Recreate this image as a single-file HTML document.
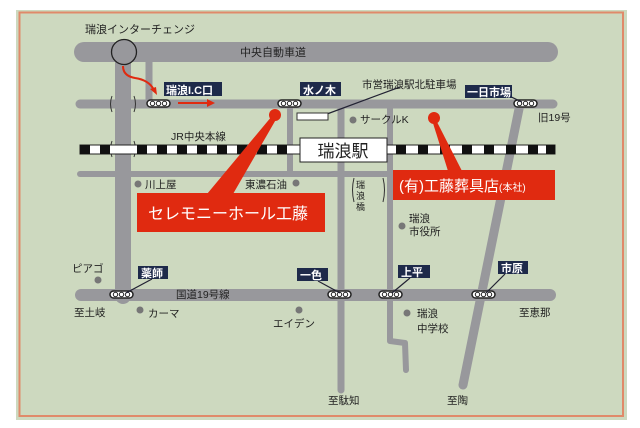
<!DOCTYPE html>
<html><head><meta charset="utf-8"><style>
html,body{margin:0;padding:0;background:#fff;}
svg{display:block;font-family:"Liberation Sans","Noto Sans CJK JP",sans-serif;}
</style></head><body>
<svg width="640" height="428" viewBox="0 0 640 428" xmlns="http://www.w3.org/2000/svg">
<defs>
<g id="sig"><rect x="0" y="0" width="23" height="7" rx="3.5" fill="#fff" stroke="#222" stroke-width="1.5"/><circle cx="5.5" cy="3.5" r="2.2" fill="none" stroke="#222" stroke-width="1"/><circle cx="11.5" cy="3.5" r="2.2" fill="none" stroke="#222" stroke-width="1"/><circle cx="17.5" cy="3.5" r="2.2" fill="none" stroke="#222" stroke-width="1"/></g>
</defs>
<rect x="16" y="10" width="611" height="410" fill="#cdd9bf"/>
<rect x="19.5" y="12.5" width="603.5" height="403.5" fill="none" stroke="#e08a6a" stroke-width="2"/>
<g stroke="#98989c" stroke-linecap="round" fill="none">
<line x1="84" y1="52" x2="548" y2="52" stroke-width="20"/>
<line x1="123" y1="52" x2="123" y2="296" stroke-width="16"/>
<line x1="149" y1="52" x2="149" y2="104" stroke-width="7"/>
<line x1="80" y1="104" x2="553" y2="104" stroke-width="9"/>
<line x1="80" y1="174" x2="395" y2="174" stroke-width="6"/>
<line x1="81" y1="295" x2="550" y2="295" stroke-width="12"/>
<line x1="290" y1="104" x2="290" y2="174" stroke-width="6"/>
<line x1="341" y1="104" x2="341" y2="390" stroke-width="7"/>
<polyline points="390,104 390,341 405,343 406,370" stroke-width="6" stroke-linejoin="round"/>
<line x1="520" y1="104" x2="463" y2="385" stroke-width="9"/>
</g>
<g stroke="#333" stroke-width="1" fill="none">
<path d="M112,96 q-3,8 0,16"/><path d="M134,96 q3,8 0,16"/>
<path d="M112,141 q-3,8 0,16"/><path d="M134,141 q3,8 0,16"/>
<path d="M354,178 q-3,12 0,24"/><path d="M383,178 q3,12 0,24"/>
</g>
<circle cx="124" cy="52" r="12.5" fill="#98989c" stroke="#222" stroke-width="1.3"/>
<rect x="80" y="145" width="475" height="9" fill="#fff" stroke="#222" stroke-width="1"/>
<g fill="#111">
<rect x="80" y="145" width="10" height="9"/><rect x="100" y="145" width="10" height="9"/>
<rect x="137" y="145" width="10" height="9"/><rect x="157" y="145" width="10" height="9"/><rect x="177" y="145" width="10" height="9"/><rect x="197" y="145" width="10" height="9"/><rect x="217" y="145" width="10" height="9"/><rect x="237" y="145" width="10" height="9"/><rect x="257" y="145" width="10" height="9"/><rect x="277" y="145" width="10" height="9"/>
<rect x="396" y="145" width="10" height="9"/><rect x="418" y="145" width="10" height="9"/><rect x="440" y="145" width="10" height="9"/><rect x="462" y="145" width="10" height="9"/><rect x="484" y="145" width="10" height="9"/><rect x="506" y="145" width="10" height="9"/><rect x="528" y="145" width="10" height="9"/><rect x="546" y="145" width="9" height="9"/>
</g>
<rect x="300" y="138" width="87" height="24" fill="#fff" stroke="#222" stroke-width="1"/>
<text x="343" y="157" font-size="17" text-anchor="middle" fill="#222">瑞浪駅</text>
<use href="#sig" x="147" y="100"/><use href="#sig" x="278" y="100"/><use href="#sig" x="514" y="100"/>
<use href="#sig" x="110" y="291"/><use href="#sig" x="328" y="291"/><use href="#sig" x="379" y="291"/><use href="#sig" x="472" y="291"/>
<g stroke="#223" stroke-width="1.2">
<line x1="152" y1="279" x2="126" y2="293"/><line x1="318" y1="281" x2="340" y2="293"/>
<line x1="410" y1="278" x2="392" y2="293"/><line x1="505" y1="274" x2="486" y2="293"/>
<line x1="505" y1="94" x2="522" y2="102"/>
<line x1="400" y1="87" x2="327" y2="114"/>
</g>
<rect x="297" y="113" width="31" height="7" fill="#fff" stroke="#333" stroke-width="1"/>
<g fill="#1e2a4a">
<rect x="164" y="82" width="58" height="14"/><rect x="300" y="82" width="41" height="14"/>
<rect x="465" y="85" width="47" height="13"/><rect x="138" y="266" width="30" height="13"/>
<rect x="297" y="268" width="31" height="13"/><rect x="398" y="265" width="32" height="13"/>
<rect x="498" y="261" width="30" height="13"/>
</g>
<g fill="#fff" font-size="11" font-weight="bold">
<text x="166" y="94">瑞浪I.C口</text><text x="303" y="94">水ノ木</text><text x="467" y="96">一日市場</text>
<text x="141" y="277">薬師</text><text x="300" y="279">一色</text><text x="401" y="276">上平</text><text x="501" y="272">市原</text>
</g>
<g stroke="#e02a10" stroke-width="2" fill="none">
<path d="M123,66 q0,10 12,12 q14,2 19,12"/>
<line x1="178" y1="103" x2="210" y2="103"/>
</g>
<polygon points="157,95 150,89 156,87" fill="#e02a10"/>
<polygon points="215,103 207,99 207,107" fill="#e02a10"/>
<g fill="#e02a10">
<circle cx="275" cy="115" r="6"/>
<polygon points="272,116 278,116 233,194 207,194"/>
<rect x="137" y="193" width="188" height="39"/>
<circle cx="434" cy="118" r="6"/>
<polygon points="432,120 436,120 462,171 448,171"/>
<rect x="393" y="170" width="162" height="30"/>
</g>
<text x="148" y="219" font-size="16" fill="#fff">セレモニーホール工藤</text>
<text x="399" y="191" font-size="15" fill="#fff">(有)工藤葬具店<tspan font-size="10">(本社)</tspan></text>
<g fill="#777">
<circle cx="353" cy="120" r="3.5"/><circle cx="138" cy="184" r="3.5"/><circle cx="296" cy="183" r="3.5"/>
<circle cx="402" cy="226" r="3.5"/><circle cx="98" cy="280" r="3.5"/><circle cx="140" cy="310" r="3.5"/>
<circle cx="299" cy="310" r="3.5"/><circle cx="407" cy="313" r="3.5"/>
</g>
<g fill="#222" font-size="10.5">
<text x="85" y="33" font-size="11">瑞浪インターチェンジ</text>
<text x="240" y="56" font-size="11">中央自動車道</text>
<text x="362" y="88">市営瑞浪駅北駐車場</text>
<text x="360" y="123">サークルK</text>
<text x="538" y="121">旧19号</text>
<text x="171" y="140">JR中央本線</text>
<text x="145" y="188">川上屋</text>
<text x="245" y="188">東濃石油</text>
<text x="356" y="188" font-size="9">瑞</text><text x="356" y="199" font-size="9">浪</text><text x="356" y="210" font-size="9">橋</text>
<text x="409" y="222">瑞浪</text><text x="409" y="235">市役所</text>
<text x="72" y="272">ピアゴ</text>
<text x="176" y="298">国道19号線</text>
<text x="74" y="316">至土岐</text>
<text x="148" y="317">カーマ</text>
<text x="273" y="327">エイデン</text>
<text x="417" y="317">瑞浪</text><text x="417" y="332">中学校</text>
<text x="519" y="316">至恵那</text>
<text x="328" y="404">至駄知</text>
<text x="447" y="404">至陶</text>
</g>
</svg>
</body></html>
